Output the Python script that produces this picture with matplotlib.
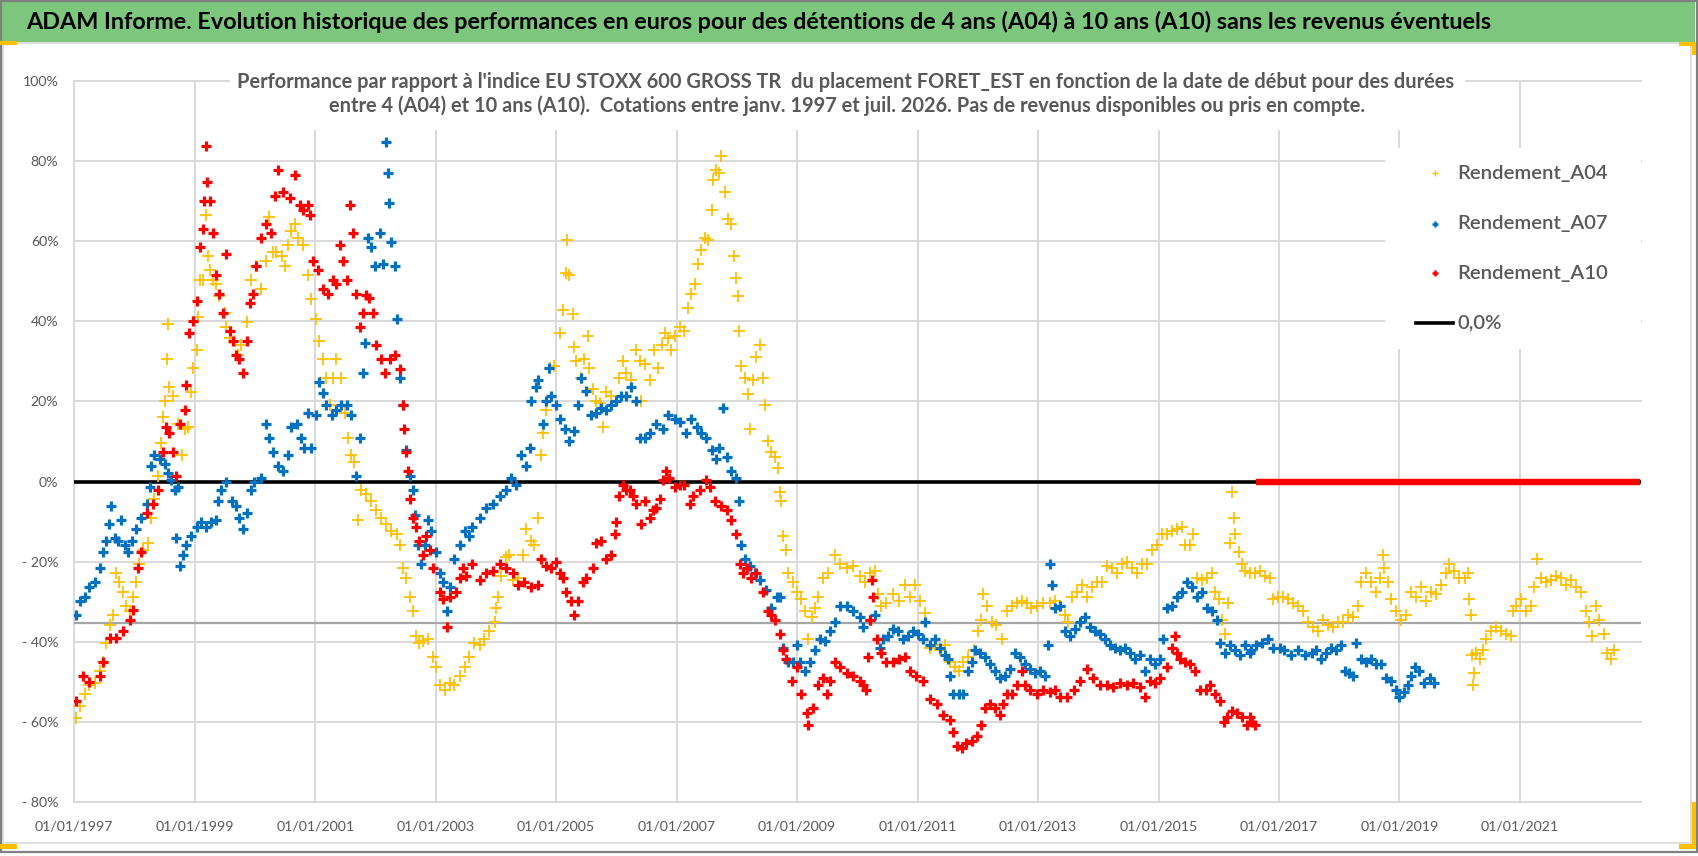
import matplotlib
matplotlib.use("Agg")
import matplotlib.pyplot as plt
from matplotlib import font_manager
from matplotlib.lines import Line2D
from matplotlib.patches import Rectangle

# ------------------------------------------------------------------ data
title_text = ("ADAM Informe. Evolution historique des performances en euros pour des "
              "détentions de 4 ans (A04) à 10 ans (A10) sans les revenus éventuels")
subtitle_line1 = ("Performance par rapport à l'indice EU STOXX 600 GROSS TR  du placement "
                  "FORET_EST en fonction de la date de début pour des durées")
subtitle_line2 = ("entre 4 (A04) et 10 ans (A10).  Cotations entre janv. 1997 et juil. 2026. "
                  "Pas de revenus disponibles ou pris en compte.")
series_labels = ["Rendement_A04", "Rendement_A07", "Rendement_A10", "0,0%"]

x_ticks = [1997, 1999, 2001, 2003, 2005, 2007, 2009, 2011, 2013, 2015, 2017, 2019, 2021]
x_tick_labels = ["01/01/%d" % y for y in x_ticks]
y_ticks = [-80, -60, -40, -20, 0, 20, 40, 60, 80, 100]
y_tick_labels = ["- 80%", "- 60%", "- 40%", "- 20%", "0%", "20%", "40%", "60%", "80%", "100%"]
x_min, x_max = 1997.0, 2023.01
ref_line_value = -35.2

# (date in decimal years, performance in %)
a04_points = [
    (1997.02,-59.0),(1997.09,-56.0),(1997.17,-53.1),(1997.25,-50.8),(1997.34,-50.2),(1997.42,-47.3),
    (1997.48,-45.0),(1997.53,-40.3),(1997.59,-35.7),(1997.64,-33.4),(1997.70,-22.9),(1997.75,-25.2),
    (1997.81,-27.5),(1997.86,-31.0),(1997.92,-32.2),(1997.97,-28.7),(1998.03,-25.2),(1998.08,-20.6),
    (1998.14,-17.1),(1998.22,-15.3),(1998.28,-9.0),(1998.33,-4.3),(1998.39,1.5),(1998.44,9.7),
    (1998.47,16.0),(1998.50,20.1),(1998.54,30.6),(1998.56,39.3),(1998.58,23.6),(1998.64,21.3),
    (1998.72,14.3),(1998.78,6.7),(1998.83,13.1),(1998.89,13.7),(1998.93,22.4),(1998.97,28.3),
    (1999.03,32.9),(1999.05,41.0),(1999.08,50.3),(1999.14,50.3),(1999.19,66.6),(1999.22,56.2),
    (1999.25,52.7),(1999.30,50.3),(1999.36,49.2),(1999.41,46.3),(1999.50,42.2),(1999.52,38.7),
    (1999.58,35.8),(1999.66,35.2),(1999.72,31.7),(1999.77,34.0),(1999.86,39.9),(1999.94,50.3),
    (2000.02,53.8),(2000.10,48.0),(2000.19,55.0),(2000.24,66.0),(2000.30,57.3),(2000.35,57.3),
    (2000.44,56.2),(2000.49,53.8),(2000.55,59.0),(2000.60,62.6),(2000.66,64.3),(2000.71,60.8),
    (2000.80,59.0),(2000.88,51.5),(2000.93,45.7),(2001.02,40.5),(2001.07,35.2),(2001.13,30.6),
    (2001.18,25.9),(2001.24,19.0),(2001.29,25.9),(2001.35,30.6),(2001.43,25.9),(2001.49,17.2),
    (2001.54,10.8),(2001.60,6.7),(2001.65,5.0),(2001.71,-9.5),(2001.76,-2.0),(2001.85,-3.1),
    (2001.93,-4.9),(2002.01,-7.2),(2002.10,-9.0),(2002.18,-10.7),(2002.26,-12.4),(2002.35,-13.0),
    (2002.40,-15.9),(2002.46,-21.7),(2002.51,-24.0),(2002.57,-28.7),(2002.62,-32.2),(2002.68,-38.6),
    (2002.73,-40.3),(2002.79,-39.8),(2002.87,-39.2),(2002.95,-43.8),(2003.01,-46.2),(2003.07,-50.8),
    (2003.15,-52.0),(2003.23,-50.2),(2003.31,-50.8),(2003.40,-48.5),(2003.48,-46.2),(2003.56,-43.8),
    (2003.64,-40.3),(2003.73,-40.9),(2003.81,-39.2),(2003.89,-37.4),(2003.98,-35.1),(2004.00,-31.6),
    (2004.03,-28.7),(2004.09,-23.5),(2004.17,-18.8),(2004.22,-18.3),(2004.28,-24.6),(2004.36,-24.0),
    (2004.45,-18.3),(2004.50,-11.9),(2004.58,-14.8),(2004.64,-15.9),(2004.70,-9.0),(2004.75,6.7),
    (2004.78,12.0),(2004.83,17.8),(2004.89,28.3),(2004.97,28.9),(2005.06,37.0),(2005.11,42.8),
    (2005.17,52.1),(2005.18,60.2),(2005.22,51.5),(2005.28,41.9),(2005.30,33.5),(2005.33,30.0),
    (2005.42,25.9),(2005.47,30.6),(2005.53,36.4),(2005.55,28.3),(2005.61,23.0),(2005.66,20.1),
    (2005.72,19.5),(2005.78,13.7),(2005.83,22.4),(2005.91,21.3),(2006.00,20.1),(2006.05,25.9),
    (2006.11,30.0),(2006.16,27.0),(2006.25,25.3),(2006.33,32.9),(2006.39,30.0),(2006.41,20.1),
    (2006.47,29.4),(2006.55,25.3),(2006.63,32.9),(2006.69,28.3),(2006.75,34.0),(2006.80,37.0),
    (2006.86,35.8),(2006.91,32.9),(2006.97,36.4),(2007.05,38.7),(2007.13,37.6),(2007.19,43.4),
    (2007.24,46.9),(2007.30,49.2),(2007.35,54.4),(2007.41,57.8),(2007.47,60.8),(2007.52,60.2),
    (2007.58,67.8),(2007.60,75.3),(2007.66,77.7),(2007.71,77.0),(2007.74,81.2),(2007.80,72.4),
    (2007.85,65.5),(2007.91,64.3),(2007.96,56.2),(2007.99,50.9),(2008.02,46.3),(2008.04,37.6),
    (2008.07,28.9),(2008.13,25.9),(2008.19,21.9),(2008.21,13.1),(2008.27,25.3),(2008.32,31.2),
    (2008.38,34.0),(2008.43,25.9),(2008.46,19.0),(2008.52,10.2),(2008.57,7.3),(2008.63,6.2),
    (2008.68,3.3),(2008.71,-2.6),(2008.74,-4.9),(2008.77,-13.6),(2008.82,-17.1),(2008.85,-22.9),
    (2008.93,-25.2),(2008.99,-27.5),(2009.07,-29.3),(2009.13,-32.2),(2009.18,-39.2),(2009.24,-33.9),
    (2009.29,-31.6),(2009.35,-28.7),(2009.43,-24.0),(2009.52,-22.9),(2009.63,-18.3),(2009.71,-20.6),
    (2009.82,-21.7),(2009.93,-21.2),(2010.04,-23.5),(2010.12,-25.2),(2010.21,-22.9),(2010.29,-22.3),
    (2010.35,-28.1),(2010.40,-31.0),(2010.48,-30.4),(2010.60,-28.1),(2010.69,-29.9),(2010.79,-25.8),
    (2010.87,-28.7),(2010.96,-25.8),(2011.04,-29.9),(2011.12,-32.8),(2011.20,-41.5),(2011.29,-40.9),
    (2011.37,-42.0),(2011.45,-40.9),(2011.54,-45.0),(2011.62,-46.2),(2011.68,-47.3),(2011.76,-45.0),
    (2011.84,-43.8),(2011.93,-42.0),(2012.01,-37.4),(2012.06,-34.5),(2012.09,-28.1),(2012.15,-31.0),
    (2012.23,-35.1),(2012.31,-35.7),(2012.40,-39.2),(2012.48,-32.2),(2012.56,-31.0),(2012.65,-30.4),
    (2012.73,-29.9),(2012.81,-30.4),(2012.89,-31.6),(2012.98,-31.0),(2013.09,-30.4),(2013.20,-30.4),
    (2013.28,-29.9),(2013.37,-31.0),(2013.45,-33.4),(2013.50,-35.1),(2013.56,-28.7),(2013.64,-27.5),
    (2013.73,-25.8),(2013.81,-28.7),(2013.89,-26.4),(2013.98,-25.2),(2014.06,-25.2),(2014.14,-21.2),
    (2014.22,-21.7),(2014.31,-22.9),(2014.39,-20.6),(2014.47,-20.0),(2014.56,-21.7),(2014.64,-22.9),
    (2014.72,-20.6),(2014.81,-20.6),(2014.89,-17.1),(2014.97,-15.9),(2015.06,-13.0),(2015.14,-13.0),
    (2015.22,-12.4),(2015.30,-11.9),(2015.39,-11.3),(2015.44,-15.9),(2015.53,-15.9),(2015.58,-13.0),
    (2015.64,-24.0),(2015.72,-24.6),(2015.80,-24.0),(2015.89,-22.9),(2015.94,-27.5),(2016.00,-29.3),
    (2016.05,-34.5),(2016.11,-38.0),(2016.16,-30.4),(2016.19,-15.3),(2016.22,-2.6),(2016.25,-9.0),
    (2016.27,-13.0),(2016.33,-17.7),(2016.39,-20.6),(2016.44,-22.3),(2016.52,-22.9),(2016.60,-22.9),
    (2016.68,-22.3),(2016.76,-23.5),(2016.85,-24.0),(2016.90,-29.3),(2016.98,-28.7),(2017.07,-28.7),
    (2017.15,-29.3),(2017.23,-30.4),(2017.31,-31.0),(2017.40,-32.2),(2017.48,-35.1),(2017.56,-36.3),
    (2017.65,-37.4),(2017.73,-34.5),(2017.81,-35.7),(2017.90,-36.3),(2017.98,-35.1),(2018.06,-35.1),
    (2018.14,-33.4),(2018.23,-33.9),(2018.31,-31.0),(2018.36,-25.2),(2018.45,-22.9),(2018.53,-25.2),
    (2018.61,-27.5),(2018.67,-24.0),(2018.72,-18.3),(2018.75,-21.7),(2018.81,-25.2),(2018.86,-29.3),
    (2018.94,-32.2),(2019.03,-34.5),(2019.11,-33.4),(2019.19,-27.5),(2019.28,-28.7),(2019.36,-26.4),
    (2019.44,-29.9),(2019.52,-27.5),(2019.61,-28.1),(2019.69,-25.8),(2019.77,-22.9),(2019.83,-20.6),
    (2019.91,-22.3),(2019.99,-24.0),(2020.08,-24.0),(2020.13,-22.9),(2020.16,-29.3),(2020.19,-33.4),
    (2020.20,-43.3),(2020.22,-50.8),(2020.24,-47.9),(2020.27,-42.7),(2020.33,-44.4),(2020.38,-42.0),
    (2020.44,-39.2),(2020.52,-37.4),(2020.60,-36.3),(2020.69,-37.4),(2020.77,-38.0),(2020.85,-38.6),
    (2020.88,-32.2),(2020.93,-31.0),(2021.02,-29.3),(2021.10,-32.2),(2021.18,-31.0),(2021.24,-26.4),
    (2021.29,-19.4),(2021.35,-24.0),(2021.43,-25.2),(2021.51,-24.6),(2021.60,-23.5),(2021.68,-24.0),
    (2021.76,-25.8),(2021.85,-24.6),(2021.93,-26.4),(2022.01,-27.5),(2022.09,-32.2),(2022.15,-35.1),
    (2022.20,-38.6),(2022.26,-31.0),(2022.31,-34.5),(2022.40,-38.0),(2022.45,-42.7),(2022.51,-44.4),
    (2022.56,-42.0),
]

a07_points = [
    (1997.02,-33.4),(1997.09,-29.9),(1997.17,-28.7),(1997.25,-26.4),(1997.34,-25.2),(1997.42,-21.7),
    (1997.48,-17.7),(1997.53,-14.8),(1997.58,-10.7),(1997.61,-6.0),(1997.67,-14.2),(1997.72,-14.8),
    (1997.78,-9.5),(1997.84,-15.9),(1997.89,-17.7),(1997.95,-14.8),(1998.03,-11.9),(1998.11,-9.0),
    (1998.20,-5.5),(1998.25,-1.4),(1998.28,3.8),(1998.33,6.7),(1998.42,5.6),(1998.50,4.4),
    (1998.56,2.1),(1998.61,0.3),(1998.67,-2.0),(1998.72,-1.4),(1998.69,-14.2),(1998.75,-21.2),
    (1998.80,-18.3),(1998.86,-15.9),(1998.94,-13.6),(1999.03,-11.3),(1999.11,-10.1),(1999.19,-11.3),
    (1999.27,-10.1),(1999.36,-9.5),(1999.39,-4.9),(1999.44,-2.0),(1999.52,-0.2),(1999.61,-4.9),
    (1999.69,-6.0),(1999.74,-9.0),(1999.80,-11.9),(1999.86,-7.8),(1999.94,-2.0),(1999.99,-0.2),
    (2000.10,0.9),(2000.19,14.3),(2000.24,10.8),(2000.30,7.3),(2000.38,3.8),(2000.46,2.7),
    (2000.55,6.7),(2000.60,13.7),(2000.69,14.3),(2000.77,10.8),(2000.82,8.5),(2000.88,17.2),
    (2000.93,8.5),(2001.02,16.6),(2001.07,24.8),(2001.13,22.0),(2001.18,19.0),(2001.27,16.6),
    (2001.35,17.8),(2001.43,19.0),(2001.52,19.0),(2001.60,16.6),(2001.68,1.5),(2001.74,10.8),
    (2001.79,27.0),(2001.82,34.7),(2001.88,60.8),(2001.93,58.5),(2001.99,53.8),(2002.07,62.0),
    (2002.12,54.4),(2002.18,84.7),(2002.21,77.0),(2002.22,69.5),(2002.26,59.7),(2002.32,53.8),
    (2002.35,40.5),(2002.40,25.9),(2002.46,19.0),(2002.51,7.9),(2002.57,1.5),(2002.62,-2.0),
    (2002.65,-8.4),(2002.71,-15.9),(2002.76,-20.6),(2002.82,-15.9),(2002.87,-9.5),(2002.93,-12.4),
    (2003.01,-17.7),(2003.07,-22.9),(2003.12,-25.2),(2003.18,-32.2),(2003.23,-26.4),(2003.31,-19.4),
    (2003.40,-15.9),(2003.48,-12.4),(2003.56,-13.6),(2003.61,-11.3),(2003.73,-9.0),(2003.84,-6.6),
    (2003.95,-5.5),(2004.06,-3.7),(2004.17,-2.0),(2004.25,0.9),(2004.34,-0.8),(2004.42,6.7),
    (2004.50,3.8),(2004.56,8.5),(2004.58,20.1),(2004.67,23.6),(2004.70,25.3),(2004.78,14.3),
    (2004.83,20.1),(2004.88,28.3),(2004.92,21.3),(2005.00,19.0),(2005.06,15.5),(2005.14,13.1),
    (2005.22,10.2),(2005.30,12.6),(2005.36,19.0),(2005.42,25.9),(2005.50,22.6),(2005.58,16.6),
    (2005.66,17.2),(2005.75,18.4),(2005.83,17.8),(2005.91,19.0),(2006.00,20.1),(2006.08,21.3),
    (2006.16,21.3),(2006.25,23.6),(2006.33,20.1),(2006.39,10.8),(2006.47,10.8),(2006.55,12.0),
    (2006.66,14.3),(2006.77,13.1),(2006.86,16.6),(2006.97,15.5),(2007.05,14.9),(2007.16,12.0),
    (2007.24,15.5),(2007.33,13.7),(2007.41,12.0),(2007.49,10.8),(2007.58,7.9),(2007.66,5.6),
    (2007.71,8.5),(2007.77,18.4),(2007.83,6.2),(2007.91,2.7),(2007.99,0.9),(2008.04,-4.9),
    (2008.07,-15.9),(2008.13,-19.4),(2008.21,-21.2),(2008.30,-22.9),(2008.38,-24.6),(2008.49,-27.0),
    (2008.57,-31.6),(2008.66,-28.7),(2008.71,-28.7),(2008.77,-41.5),(2008.85,-45.0),(2008.93,-45.0),
    (2008.99,-40.9),(2009.04,-45.0),(2009.13,-47.3),(2009.21,-45.0),(2009.29,-42.0),(2009.38,-39.2),
    (2009.46,-39.8),(2009.54,-37.4),(2009.63,-35.1),(2009.71,-31.0),(2009.82,-31.0),(2009.93,-32.2),
    (2010.04,-33.9),(2010.10,-36.3),(2010.21,-34.5),(2010.29,-33.4),(2010.37,-41.5),(2010.43,-39.2),
    (2010.51,-38.6),(2010.60,-36.9),(2010.68,-37.4),(2010.76,-39.2),(2010.84,-38.6),(2010.93,-37.4),
    (2011.01,-38.0),(2011.09,-39.2),(2011.12,-35.1),(2011.20,-40.9),(2011.29,-39.2),(2011.37,-41.5),
    (2011.45,-43.3),(2011.51,-44.4),(2011.54,-48.5),(2011.59,-53.1),(2011.68,-53.1),(2011.76,-53.1),
    (2011.84,-47.3),(2011.90,-45.0),(2011.95,-42.0),(2012.04,-42.7),(2012.12,-43.8),(2012.20,-45.6),
    (2012.29,-47.3),(2012.37,-49.1),(2012.45,-48.5),(2012.53,-46.7),(2012.62,-42.7),(2012.70,-43.8),
    (2012.78,-45.6),(2012.87,-46.7),(2012.95,-47.9),(2013.03,-47.3),(2013.12,-48.5),(2013.17,-40.9),
    (2013.20,-20.6),(2013.23,-25.8),(2013.28,-31.6),(2013.37,-31.0),(2013.45,-37.4),(2013.53,-38.6),
    (2013.61,-36.9),(2013.70,-35.1),(2013.78,-33.9),(2013.86,-36.3),(2013.95,-37.4),(2014.03,-38.0),
    (2014.11,-39.2),(2014.20,-40.9),(2014.28,-41.5),(2014.36,-42.0),(2014.45,-41.5),(2014.53,-42.7),
    (2014.61,-44.4),(2014.70,-43.3),(2014.78,-47.3),(2014.86,-44.4),(2014.94,-45.6),(2015.03,-44.4),
    (2015.08,-39.2),(2015.14,-31.6),(2015.22,-31.0),(2015.30,-28.7),(2015.39,-27.5),(2015.47,-25.2),
    (2015.55,-26.4),(2015.64,-28.7),(2015.72,-27.5),(2015.80,-31.6),(2015.89,-32.2),(2015.97,-34.5),
    (2016.02,-40.3),(2016.11,-42.7),(2016.19,-40.9),(2016.27,-42.0),(2016.36,-43.3),(2016.44,-40.9),
    (2016.52,-42.7),(2016.54,-42.0),(2016.62,-40.9),(2016.71,-40.3),(2016.82,-39.2),(2016.90,-41.5),
    (2017.01,-41.5),(2017.09,-42.0),(2017.20,-43.3),(2017.31,-42.0),(2017.43,-43.3),(2017.54,-42.7),
    (2017.62,-42.0),(2017.70,-44.4),(2017.78,-42.7),(2017.87,-41.5),(2017.95,-42.0),(2018.03,-40.9),
    (2018.09,-47.3),(2018.17,-47.9),(2018.23,-48.5),(2018.28,-40.3),(2018.36,-44.4),(2018.45,-45.0),
    (2018.53,-44.4),(2018.61,-45.6),(2018.70,-45.6),(2018.78,-49.1),(2018.86,-49.7),(2018.94,-52.0),
    (2019.00,-53.7),(2019.08,-52.6),(2019.14,-50.8),(2019.19,-48.5),(2019.25,-46.2),(2019.33,-47.3),
    (2019.41,-50.2),(2019.50,-49.1),(2019.58,-50.2),
]

a10_points = [
    (1997.02,-54.9),(1997.14,-48.5),(1997.25,-50.0),(1997.42,-48.5),(1997.48,-45.0),(1997.59,-39.0),
    (1997.70,-39.0),(1997.81,-37.4),(1997.92,-34.5),(1997.97,-32.0),(1998.06,-21.7),(1998.11,-17.7),
    (1998.20,-7.8),(1998.31,-5.5),(1998.39,-2.0),(1998.47,7.3),(1998.53,13.7),(1998.58,12.0),
    (1998.64,7.3),(1998.69,1.5),(1998.75,14.3),(1998.83,17.8),(1998.86,24.2),(1998.91,37.0),
    (1998.97,40.0),(1999.03,45.0),(1999.08,58.5),(1999.14,63.0),(1999.16,70.0),(1999.18,83.8),
    (1999.20,74.8),(1999.25,70.0),(1999.30,62.0),(1999.36,51.5),(1999.41,46.9),(1999.47,42.0),
    (1999.52,56.7),(1999.58,37.6),(1999.63,35.2),(1999.69,31.7),(1999.74,30.6),(1999.80,27.0),
    (1999.86,35.2),(1999.91,44.5),(1999.97,46.9),(2000.02,53.8),(2000.10,60.8),(2000.19,64.3),
    (2000.27,62.0),(2000.33,71.3),(2000.38,77.7),(2000.46,72.4),(2000.58,70.7),(2000.66,76.5),
    (2000.74,69.0),(2000.80,67.8),(2000.88,69.0),(2000.91,66.6),(2000.96,55.0),(2001.05,52.7),
    (2001.13,48.0),(2001.21,46.9),(2001.29,50.3),(2001.35,49.2),(2001.41,59.0),(2001.46,55.0),
    (2001.52,50.3),(2001.57,69.0),(2001.63,62.0),(2001.68,46.9),(2001.74,38.7),(2001.79,42.2),
    (2001.85,46.5),(2001.90,45.8),(2001.96,42.2),(2002.01,34.0),(2002.10,30.6),(2002.15,27.0),
    (2002.24,30.6),(2002.32,31.7),(2002.40,28.0),(2002.46,19.0),(2002.48,13.0),(2002.51,7.3),
    (2002.54,2.7),(2002.57,-4.3),(2002.62,-9.0),(2002.68,-11.3),(2002.73,-14.8),(2002.79,-18.3),
    (2002.84,-13.6),(2002.90,-17.0),(2002.95,-21.7),(2003.07,-27.5),(2003.12,-29.3),(2003.18,-36.3),
    (2003.23,-28.7),(2003.34,-27.5),(2003.40,-24.0),(2003.45,-21.7),(2003.50,-23.5),(2003.61,-20.6),
    (2003.73,-24.6),(2003.84,-22.9),(2003.95,-22.3),(2004.06,-20.6),(2004.17,-21.7),(2004.28,-22.9),
    (2004.36,-25.8),(2004.47,-25.2),(2004.58,-26.4),(2004.70,-25.8),(2004.75,-19.4),(2004.83,-21.2),
    (2004.92,-21.7),(2005.00,-20.0),(2005.06,-22.9),(2005.11,-24.0),(2005.17,-27.5),(2005.25,-29.9),
    (2005.30,-33.4),(2005.36,-29.9),(2005.44,-25.2),(2005.50,-24.0),(2005.61,-21.7),(2005.66,-15.3),
    (2005.75,-14.8),(2005.83,-19.4),(2005.91,-18.3),(2005.97,-13.0),(2006.00,-10.0),(2006.05,-3.7),
    (2006.11,-0.8),(2006.16,-2.0),(2006.22,-2.0),(2006.27,-3.7),(2006.33,-5.5),(2006.41,-10.7),
    (2006.47,-4.9),(2006.55,-9.0),(2006.61,-7.2),(2006.66,-6.6),(2006.72,-4.3),(2006.77,0.3),
    (2006.83,2.7),(2006.88,0.9),(2006.97,-1.4),(2007.05,-0.8),(2007.13,-0.8),(2007.22,-5.5),
    (2007.27,-3.7),(2007.38,-2.0),(2007.49,0.3),(2007.55,-1.4),(2007.63,-4.9),(2007.74,-6.0),
    (2007.83,-7.2),(2007.91,-9.5),(2007.99,-13.0),(2008.05,-20.6),(2008.10,-22.9),(2008.16,-21.7),
    (2008.24,-24.0),(2008.32,-22.9),(2008.43,-27.5),(2008.52,-32.2),(2008.57,-33.4),(2008.63,-34.5),
    (2008.71,-38.0),(2008.77,-42.0),(2008.82,-44.4),(2008.91,-49.7),(2008.99,-46.2),(2009.07,-53.1),
    (2009.16,-57.8),(2009.18,-60.7),(2009.27,-56.6),(2009.35,-50.8),(2009.43,-49.1),(2009.49,-53.1),
    (2009.54,-49.7),(2009.63,-45.0),(2009.71,-46.2),(2009.82,-47.9),(2009.93,-48.5),(2010.04,-49.7),
    (2010.10,-50.8),(2010.15,-52.0),(2010.18,-43.8),(2010.21,-34.5),(2010.24,-24.6),(2010.26,-28.7),
    (2010.32,-39.2),(2010.40,-42.7),(2010.48,-45.0),(2010.60,-45.0),(2010.69,-44.4),(2010.79,-43.8),
    (2010.87,-47.3),(2010.98,-48.5),(2011.09,-49.7),(2011.20,-54.3),(2011.32,-55.5),(2011.43,-58.4),
    (2011.54,-59.5),(2011.59,-62.4),(2011.65,-65.9),(2011.73,-66.5),(2011.81,-65.3),(2011.90,-64.8),
    (2011.98,-63.6),(2012.06,-60.7),(2012.12,-56.6),(2012.20,-55.5),(2012.29,-56.6),(2012.37,-58.4),
    (2012.42,-55.5),(2012.48,-53.1),(2012.56,-53.1),(2012.65,-50.8),(2012.73,-47.3),(2012.78,-50.8),
    (2012.87,-52.0),(2012.98,-53.1),(2013.09,-52.0),(2013.20,-52.6),(2013.28,-52.0),(2013.37,-53.7),
    (2013.48,-53.7),(2013.59,-52.0),(2013.70,-49.7),(2013.81,-46.7),(2013.92,-49.1),(2014.03,-50.8),
    (2014.14,-50.8),(2014.25,-51.4),(2014.36,-50.2),(2014.47,-50.8),(2014.58,-50.2),(2014.70,-51.4),
    (2014.78,-53.7),(2014.86,-49.7),(2014.94,-50.2),(2015.03,-49.1),(2015.14,-46.2),(2015.22,-41.5),
    (2015.28,-38.6),(2015.30,-42.7),(2015.36,-44.4),(2015.44,-45.0),(2015.53,-45.6),(2015.61,-47.3),
    (2015.69,-52.0),(2015.78,-52.0),(2015.86,-50.8),(2015.94,-53.1),(2016.02,-54.9),(2016.08,-60.1),
    (2016.14,-58.9),(2016.22,-57.2),(2016.30,-57.8),(2016.39,-58.9),(2016.47,-60.7),(2016.52,-58.9),
    (2016.56,-60.1),(2016.60,-60.7),
]
# A10 start dates without a complete 10-year window are charted at 0 %
a10_zero_start, a10_zero_end = 2016.62, 2023.0

# ------------------------------------------------------------------ style
C_A04, C_A07, C_A10 = "#FFC000", "#0070C0", "#FF0000"
GREY_TXT = "#595959"
GRID = "#D9D9D9"

W, H = 1698, 856
avail = {f.name for f in font_manager.fontManager.ttflist}
FONT = next((f for f in ["Lato", "Liberation Sans", "DejaVu Sans"] if f in avail), "DejaVu Sans")
plt.rcParams["font.family"] = [FONT, "DejaVu Sans"]

fig = plt.figure(figsize=(W / 100, H / 100), dpi=100)
fig.patch.set_facecolor("white")
renderer = fig.canvas.get_renderer()


def fx(px):
    return px / W


def fy(py):
    return 1 - py / H


def rect(x0, y0, x1, y1, **kw):
    r = Rectangle((fx(x0), fy(y1)), (x1 - x0) / W, (y1 - y0) / H,
                  transform=fig.transFigure, **kw)
    fig.add_artist(r)
    return r


def text_width(s, size, weight="normal"):
    t = fig.text(0, 0, s, fontsize=size, fontweight=weight)
    w = t.get_window_extent(renderer).width
    t.remove()
    return w


def fitted(s, target_px, weight="normal"):
    return 20 * target_px / text_width(s, 20, weight)


# ------------------------------------------------------------------ frame / title
rect(2, 2, 1695, 41.5, facecolor="#7DC67D", edgecolor="none", zorder=1)
rect(2.5, 43, 1691, 843, fill=False, edgecolor=GRID, lw=1.2, zorder=1)
rect(1, 1, 1696.5, 852, fill=False, edgecolor="#808080", lw=1.6, zorder=6)
for (a, b, c, d) in [(0, 41, 17, 44.5), (1679, 42, 1695.5, 45.5), (1692, 42, 1695.5, 55),
                     (1692, 802, 1696, 849), (1679, 844, 1696, 849), (0, 844, 17, 849)]:
    rect(a, b, c, d, facecolor="#FFC000", edgecolor="none", zorder=6)

fig.text(fx(26), fy(22), title_text, ha="left", va="center", color="black",
         fontweight="bold", fontsize=fitted(title_text, 1469, "bold"), zorder=3)

# ------------------------------------------------------------------ axes
L, R, T, B = 74.3, 1641.0, 81.0, 802.0
ax = fig.add_axes([fx(L), fy(B), (R - L) / W, (B - T) / H])
ax.set_facecolor("white")
ax.set_xlim(x_min, x_max)
ax.set_ylim(-80, 100)
for s in ax.spines.values():
    s.set_visible(False)
ax.set_xticks(x_ticks)
ax.set_xticklabels(x_tick_labels)
ax.set_yticks(y_ticks)
ax.set_yticklabels(y_tick_labels)
ax.set_axisbelow(True)
ax.grid(True, color=GRID, lw=1.4)
for gl in ax.get_xgridlines() + ax.get_ygridlines():
    gl.set_clip_on(False)

tick_size = fitted("01/01/1997", 78.6)
ax.tick_params(axis="both", length=0, labelcolor=GREY_TXT, labelsize=tick_size)
ax.tick_params(axis="x", pad=13)
ax.tick_params(axis="y", pad=11.4)

ax.axhline(ref_line_value, color="#A6A6A6", lw=1.6, zorder=1.5)
ax.axhline(0, color="black", lw=2.6, zorder=2, label=series_labels[3])

for pts, col, mew, ms, lab in [(a04_points, C_A04, 1.3, 8.0, series_labels[0]),
                               (a07_points, C_A07, 2.3, 7.0, series_labels[1]),
                               (a10_points, C_A10, 2.3, 7.0, series_labels[2])]:
    xs = [p[0] for p in pts]
    ys = [p[1] for p in pts]
    ax.plot(xs, ys, linestyle="none", marker="+", color=col, ms=ms, mew=mew,
            zorder=3, label=lab)
ax.plot([a10_zero_start, a10_zero_end], [0, 0], color=C_A10, lw=4.6,
        solid_capstyle="butt", zorder=4)

# ------------------------------------------------------------------ subtitle
rect(230, 72, 1465, 130, facecolor="white", edgecolor="none", zorder=2)
sub_size = fitted(subtitle_line1, 1221, "bold")
fig.text(fx(846), fy(82), subtitle_line1, ha="center", va="center", color=GREY_TXT,
         fontweight="bold", fontsize=sub_size, zorder=3)
fig.text(fx(847), fy(106), subtitle_line2, ha="center", va="center", color=GREY_TXT,
         fontweight="bold", fontsize=sub_size, zorder=3)

# ------------------------------------------------------------------ legend
rect(1385, 148, 1641, 349, facecolor="white", edgecolor="none", zorder=2)
leg_size = fitted(series_labels[0], 150, "semibold")
leg_rows = [173, 224, 273, 323]
for lab, col, mew, yy in [(series_labels[0], C_A04, 1.0, leg_rows[0]),
                          (series_labels[1], C_A07, 1.8, leg_rows[1]),
                          (series_labels[2], C_A10, 1.8, leg_rows[2])]:
    fig.add_artist(Line2D([fx(1435)], [fy(yy)], marker="+", linestyle="none", color=col,
                          ms=4.5, mew=mew, transform=fig.transFigure, zorder=3))
    fig.text(fx(1457), fy(yy), lab, ha="left", va="center", color=GREY_TXT,
             fontweight="semibold", fontsize=leg_size, zorder=3)
fig.add_artist(Line2D([fx(1416), fx(1453)], [fy(leg_rows[3])] * 2, color="black", lw=2.6,
                      transform=fig.transFigure, zorder=3))
fig.text(fx(1457), fy(leg_rows[3]), series_labels[3], ha="left", va="center", color=GREY_TXT,
         fontweight="semibold", fontsize=leg_size, zorder=3)

fig.savefig("out.png", dpi=100, facecolor="white")
